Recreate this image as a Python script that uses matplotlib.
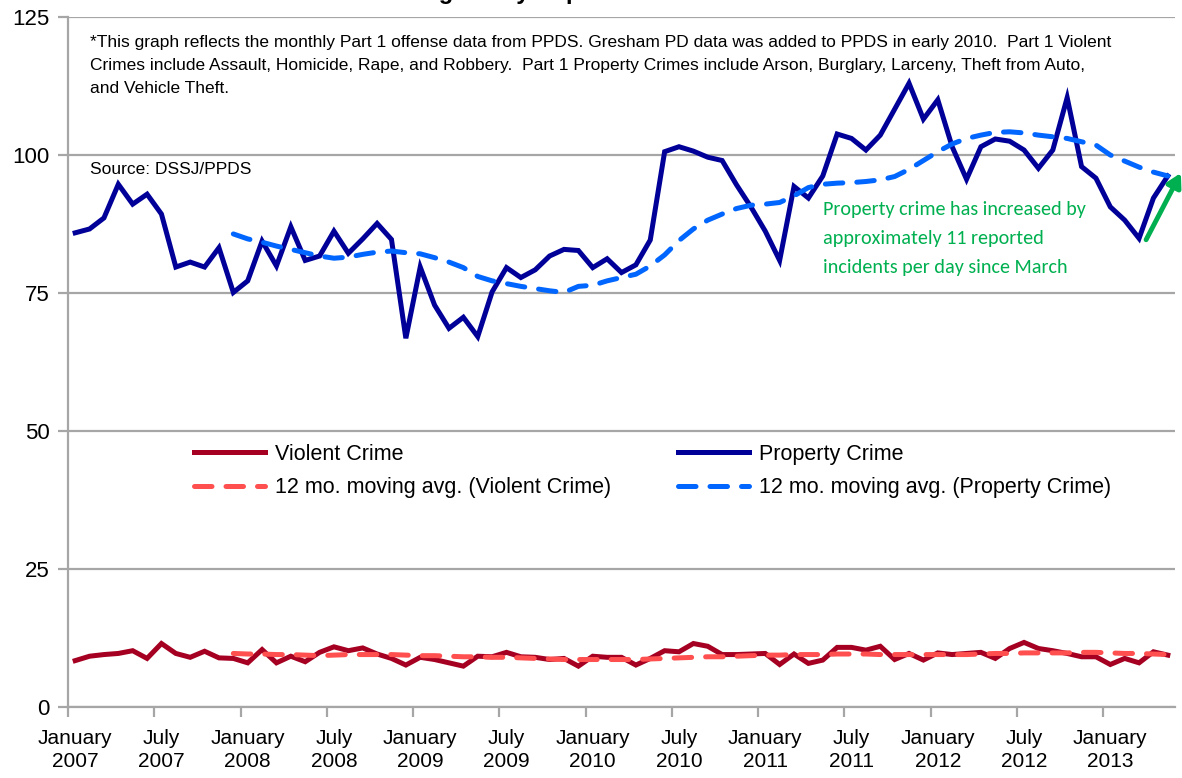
import matplotlib
matplotlib.use('Agg')
import matplotlib.pyplot as plt
import numpy as np

# monthly values, January 2007 .. May 2013
property_crime = [85.9, 86.6, 88.6, 94.7, 91.1, 92.9, 89.3, 79.7, 80.6, 79.7, 83.2, 75.1,
                  77.2, 84.4, 79.9, 87.0, 80.9, 81.7, 86.2, 82.2, 84.8, 87.6, 84.7, 66.8,
                  79.7, 72.8, 68.6, 70.6, 67.1, 75.2, 79.6, 77.8, 79.2, 81.7, 82.9, 82.7,
                  79.6, 81.2, 78.7, 80.1, 84.6, 100.6, 101.5, 100.7, 99.6, 99.0, 94.6, 90.6,
                  86.2, 80.9, 94.3, 92.2, 96.2, 103.8, 103.0, 100.9, 103.6, 108.3, 113.0, 106.5,
                  110.0, 101.5, 95.6, 101.5, 102.9, 102.5, 100.9, 97.6, 100.9, 110.4, 97.9, 95.8,
                  90.6, 88.2, 84.9, 92.2, 96.2]

violent_crime = [8.4, 9.2, 9.5, 9.7, 10.2, 8.8, 11.5, 9.7, 9.0, 10.1, 8.9, 8.8,
                 8.0, 10.4, 8.0, 9.2, 8.2, 9.9, 10.9, 10.2, 10.7, 9.6, 8.8, 7.6,
                 9.0, 8.6, 8.0, 7.4, 9.2, 9.1, 9.9, 9.1, 9.0, 8.6, 8.8, 7.4,
                 9.2, 9.0, 9.0, 7.6, 8.8, 10.2, 10.0, 11.5, 11.0, 9.5, 9.5, 9.6,
                 9.7, 7.7, 9.6, 7.9, 8.5, 10.8, 10.8, 10.3, 11.0, 8.6, 9.7, 8.5,
                 9.8, 9.5, 9.7, 9.9, 8.8, 10.6, 11.7, 10.6, 10.2, 9.7, 9.1, 9.1,
                 7.7, 8.8, 8.0, 10.0, 9.4]

# 12 month moving averages, December 2007 .. May 2013
property_ma = [85.7, 84.8, 84.2, 83.5, 82.9, 82.3, 81.7, 81.3, 81.5, 82.0, 82.4, 82.6,
               82.3, 82.1, 81.4, 80.6, 79.6, 78.0, 77.2, 76.7, 76.2, 75.8, 75.4, 75.1,
               76.2, 76.4, 77.2, 77.8, 78.4, 79.9, 81.9, 84.5, 86.6, 88.2, 89.3, 90.3,
               90.9, 91.1, 91.4, 92.6, 94.1, 94.7, 94.9, 95.0, 95.2, 95.5, 96.1, 97.4,
               99.0, 100.6, 102.0, 103.0, 103.6, 104.1, 104.2, 104.0, 103.6, 103.3, 103.0, 102.4,
               101.8, 100.0, 98.9, 97.8, 96.9, 96.2]

violent_ma = [9.7, 9.6, 9.6, 9.5, 9.5, 9.4, 9.3, 9.4, 9.5, 9.5, 9.5, 9.5,
              9.4, 9.3, 9.3, 9.2, 9.1, 9.1, 9.0, 9.0, 8.9, 8.8, 8.7, 8.6,
              8.6, 8.6, 8.6, 8.6, 8.6, 8.7, 8.8, 8.9, 9.0, 9.1, 9.1, 9.2,
              9.3, 9.4, 9.4, 9.5, 9.5, 9.5, 9.6, 9.6, 9.6, 9.5, 9.5, 9.5,
              9.5, 9.5, 9.5, 9.5, 9.6, 9.7, 9.7, 9.8, 9.8, 9.8, 9.8, 9.9,
              9.9, 9.8, 9.7, 9.7, 9.6, 9.5]

tick_labels = ["January\n2007", "July\n2007", "January\n2008", "July\n2008",
               "January\n2009", "July\n2009", "January\n2010", "July\n2010",
               "January\n2011", "July\n2011", "January\n2012", "July\n2012",
               "January\n2013"]

note = ("*This graph reflects the monthly Part 1 offense data from PPDS. Gresham PD data was added to PPDS in early 2010.  Part 1 Violent\n"
        "Crimes include Assault, Homicide, Rape, and Robbery.  Part 1 Property Crimes include Arson, Burglary, Larceny, Theft from Auto,\n"
        "and Vehicle Theft.")
callout = "Property crime has increased by\napproximately 11 reported\nincidents per day since March"

plt.rcParams['font.family'] = ['Liberation Sans Narrow', 'Liberation Sans', 'DejaVu Sans']

n = len(property_crime)
x = np.arange(n) + 0.5
ma_start = n - len(property_ma)
x_ma = x[ma_start:]

fig = plt.figure(figsize=(11.82, 7.78), dpi=100)
ax = fig.add_axes([68 / 1182, 71 / 778, 1107 / 1182, 690 / 778])

grid_col = '#a6a6a6'
ax.set_ylim(0, 125)
ax.set_xlim(0, n)
ax.set_yticks(np.arange(0, 126, 25))
ax.yaxis.grid(True, color=grid_col, linewidth=1.6)
ax.set_axisbelow(True)
for s in ['top', 'right']:
    ax.spines[s].set_visible(False)
for s in ['left', 'bottom']:
    ax.spines[s].set_color(grid_col)
    ax.spines[s].set_linewidth(1.6)

# ticks on category boundaries, labels centred on categories
ax.set_xticks(np.arange(0, n, 6))
ax.set_xticklabels([])
ax.set_xticks(np.arange(0, n, 6) + 0.5, minor=True)
ax.set_xticklabels(tick_labels, minor=True, linespacing=1.25)
ax.tick_params(axis='x', which='major', length=7, width=1.6, color=grid_col)
ax.tick_params(axis='x', which='minor', length=0, labelsize=15, pad=16)
ax.tick_params(axis='y', length=7, width=1.6, color=grid_col, labelsize=16, pad=6)

ax.plot(x, violent_crime, color='#a50021', lw=3.6, label='Violent Crime', solid_joinstyle='miter')
ax.plot(x, property_crime, color='#000099', lw=3.6, label='Property Crime', solid_joinstyle='miter')
ax.plot(x_ma, violent_ma, color='#ff4f4f', lw=3.6, ls=(0, (3.5, 2.8)), dash_capstyle='round',
        label='12 mo. moving avg. (Violent Crime)')
ax.plot(x_ma, property_ma, color='#0066ff', lw=3.6, ls=(0, (3.5, 2.8)), dash_capstyle='round',
        label='12 mo. moving avg. (Property Crime)')

handles, labels = ax.get_legend_handles_labels()
order = [0, 2, 1, 3]
ax.legend([handles[i] for i in order], [labels[i] for i in order], ncol=2, frameon=False,
          loc='center', bbox_to_anchor=(0.528, 0.342), prop={'family': 'Liberation Sans', 'size': 15.5},
          handlelength=3.3, columnspacing=3.1, labelspacing=0.6, handletextpad=0.45)

ax.text(0.02, 0.974, note, transform=ax.transAxes, ha='left', va='top', fontsize=12.5,
        linespacing=1.65, color='#000000')
ax.text(0.02, 0.79, "Source: DSSJ/PPDS", transform=ax.transAxes, ha='left', va='top', fontsize=12.5,
        color='#000000')
ax.text(0.682, 0.733, callout, transform=ax.transAxes, ha='left', va='top', fontsize=14.5,
        linespacing=1.85, color='#00b050', family=['Carlito', 'Lato', 'DejaVu Sans'])

ax.annotate('', xy=(77.5, 97.2), xytext=(74.9, 84.2), annotation_clip=False,
            arrowprops=dict(arrowstyle='-|>,head_length=0.8,head_width=0.45', color='#00b050', lw=3.5))

# chart title, mostly cut off at the top edge in the source image
fig.text(374 / 1182, 1 + 1 / 778, "Average Daily Reported Part 1 Crimes*", ha='left', va='baseline',
         fontsize=17, fontweight='bold', family=['Liberation Sans', 'DejaVu Sans'])

fig.savefig('out.png', dpi=100)
